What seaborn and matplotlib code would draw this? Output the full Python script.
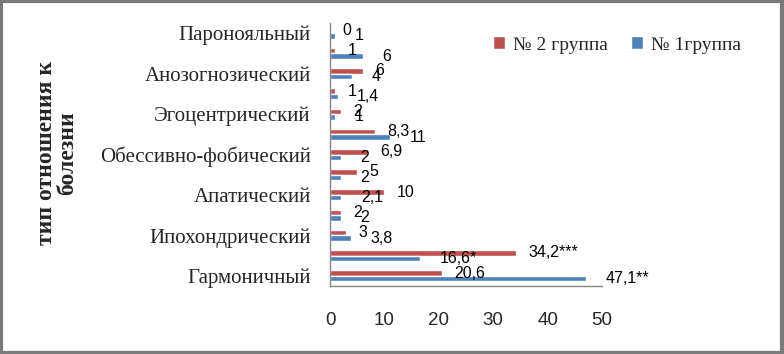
import matplotlib
matplotlib.use("Agg")
import matplotlib.pyplot as plt
from matplotlib.patches import Rectangle
import seaborn as sns
import pandas as pd

# ---- data (bottom-to-top order as in the chart) ----
categories = ["Гармоничный", "Тревожный", "Ипохондрический", "Меланхолический",
              "Апатический", "Неврастенический", "Обессивно-фобический", "Сенситивный",
              "Эгоцентрический", "Эйфорический", "Анозогнозический", "Эргопатический",
              "Паронояльный"]
shown_labels = [True, False, True, False, True, False, True, False, True, False, True, False, True]
group2 = [20.6, 34.2, 3, 2, 10, 5, 6.9, 8.3, 2, 1, 6, 1, 0]
group1 = [47.1, 16.6, 3.8, 2, 2.1, 2, 2, 11, 1, 1.4, 4, 6, 1]
group2_text = ["20,6", "34,2***", "3", "2", "10", "5", "6,9", "8,3", "2", "1", "6", "1", "0"]
group1_text = ["47,1**", "16,6*", "3,8", "2", "2,1", "2", "2", "11", "1", "1,4", "4", "6", "1"]
series_names = ["№ 2 группа", "№ 1группа"]
axis_title = "тип отношения к\nболезни"
x_ticks = [0, 10, 20, 30, 40, 50]

RED = "#C0504D"
BLUE = "#4F81BD"
AXC = "#868686"

df = pd.DataFrame({
    "cat": categories * 2,
    "val": group2 + group1,
    "grp": [series_names[0]] * len(categories) + [series_names[1]] * len(categories),
})
order = categories[::-1]  # top to bottom

sns.set_style("white")
plt.rcParams["font.family"] = ["Liberation Serif", "DejaVu Serif"]

fig = plt.figure(figsize=(7.84, 3.54), dpi=100)
ax = fig.add_axes([330 / 784, 1 - 286 / 354, 272 / 784, (286 - 23) / 354])

sns.barplot(data=df, x="val", y="cat", hue="grp", order=order, hue_order=series_names,
            palette=[RED, BLUE], orient="h", width=0.54, ax=ax, saturation=1,
            errorbar=None)

handles, labels = ax.get_legend_handles_labels()
if ax.get_legend() is not None:
    ax.get_legend().remove()

# data labels
txt_map = {series_names[0]: dict(zip(categories, group2_text)),
           series_names[1]: dict(zip(categories, group1_text))}
for cont, name, pad in zip(ax.containers, series_names, [9, 14]):
    labs = [txt_map[name][c] for c in order]
    ax.bar_label(cont, labels=labs, padding=pad, fontsize=11.5,
                 fontfamily=["Liberation Sans", "DejaVu Sans"], color="black")

ax.set_xlim(0, 50)
ax.set_ylim(len(categories) - 0.5, -0.5)
ax.set_xticks(x_ticks)
ax.set_xticklabels([str(t) for t in x_ticks], fontfamily=["Liberation Sans", "DejaVu Sans"],
                   fontsize=13.5)
ax.tick_params(axis="x", which="major", length=5, width=1, color=AXC, direction="out", pad=14)

ypos = list(range(len(order)))
shown_map = dict(zip(categories, shown_labels))
ax.set_yticks(ypos)
ax.set_yticklabels([c if shown_map[c] else "" for c in order], fontsize=15)
ax.tick_params(axis="y", which="major", length=0, pad=14)
ax.set_yticks([i - 0.5 for i in range(len(order) + 1)], minor=True)
ax.tick_params(axis="y", which="minor", length=5, width=1, color=AXC, direction="out")

ax.set_xlabel("")
ax.set_ylabel("")
for s in ["top", "right"]:
    ax.spines[s].set_visible(False)
for s in ["left", "bottom"]:
    ax.spines[s].set_color(AXC)
    ax.spines[s].set_linewidth(1)

fig.text(57 / 784, 1 - 153 / 354, axis_title, rotation=90, ha="center", va="center",
         multialignment="center", fontsize=17, fontweight="bold", linespacing=1.05)

fig.legend(handles, labels, loc="center", bbox_to_anchor=(617 / 784, 1 - 45 / 354),
           ncol=2, frameon=False, fontsize=14, handlelength=0.6, handleheight=0.6,
           handletextpad=0.4, columnspacing=1.2)

fig.patches.append(Rectangle((0.0015, 0.003), 0.996, 0.994, transform=fig.transFigure,
                             fill=False, edgecolor="#7a7a7a", linewidth=3))

fig.savefig("out.png", dpi=100)
